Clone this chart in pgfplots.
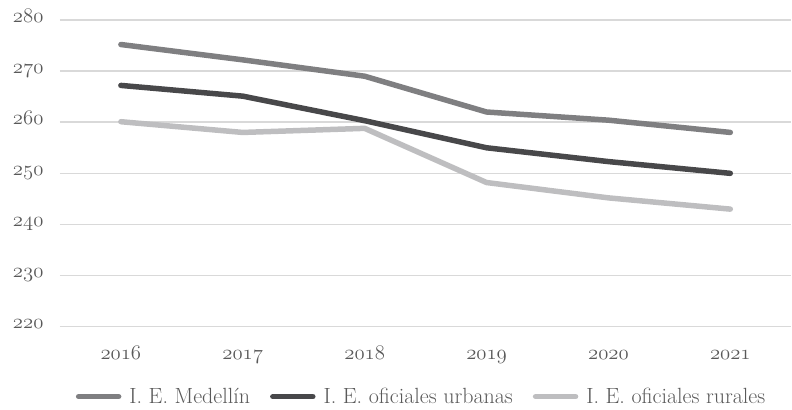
\documentclass[border=0pt]{standalone}
\usepackage{pgfplots}
\pgfplotsset{compat=1.18}
\usepackage{fontspec}
\setmainfont{Latin Modern Roman}
\newcommand{\osn}[1]{{\usefont{OML}{lmm}{m}{it}#1}}
\definecolor{cMed}{HTML}{7F7F81}
\definecolor{cUrb}{HTML}{48484A}
\definecolor{cRur}{HTML}{BEBEC0}
\definecolor{gridc}{HTML}{D9D9D9}
\definecolor{txt}{HTML}{595959}
\begin{document}
\begin{tikzpicture}
\begin{axis}[
  scale only axis, width=732pt, height=307pt,
  xmin=-0.5, xmax=5.5, ymin=220, ymax=280,
  xtick={0,1,2,3,4,5},
  xticklabels={\osn{2016},\osn{2017},\osn{2018},\osn{2019},\osn{2020},\osn{2021}},
  ytick={220,230,240,250,260,270,280},
  yticklabels={\osn{220},\osn{230},\osn{240},\osn{250},\osn{260},\osn{270},\osn{280}},
  axis line style={draw=none}, tick style={draw=none},
  ymajorgrids, grid style={line width=1.5pt, gridc},
  clip=false,
  tick label style={font=\fontsize{22}{26}\selectfont, text=txt},
  yticklabel style={anchor=mid east, xshift=-13pt},
  xticklabel style={anchor=base, yshift=-33pt},
  legend style={at={(axis description cs:0.5,0)}, anchor=center, xshift=-4pt, yshift=-70pt,
    draw=none, fill=none, legend columns=3,
    font=\fontsize{22}{26}\selectfont, text=txt,
    /tikz/every odd column/.append style={column sep=6pt},
    /tikz/every even column/.append style={column sep=18pt}},
  legend image code/.code={\draw[#1, line width=5.5pt, line cap=round] (0,0) -- (40pt,0);},
  every axis plot/.append style={line width=5.5pt, line join=round, line cap=round}
]
\addplot[cMed] coordinates {(0,275.2) (1,272.2) (2,269.0) (3,262.0) (4,260.4) (5,258.0)};
\addlegendentry{I. E. Medellín}
\addplot[cUrb] coordinates {(0,267.2) (1,265.1) (2,260.3) (3,255.0) (4,252.3) (5,250.0)};
\addlegendentry{I. E. oficiales urbanas}
\addplot[cRur] coordinates {(0,260.1) (1,258.0) (2,258.8) (3,248.2) (4,245.2) (5,243.0)};
\addlegendentry{I. E. oficiales rurales}
\path (axis description cs:0,1) ++(-60pt,20pt) coordinate (tl);
\path (axis description cs:1,0) ++(0pt,-80pt) coordinate (br);
\end{axis}
\useasboundingbox (tl) rectangle (br);
\end{tikzpicture}
\end{document}
